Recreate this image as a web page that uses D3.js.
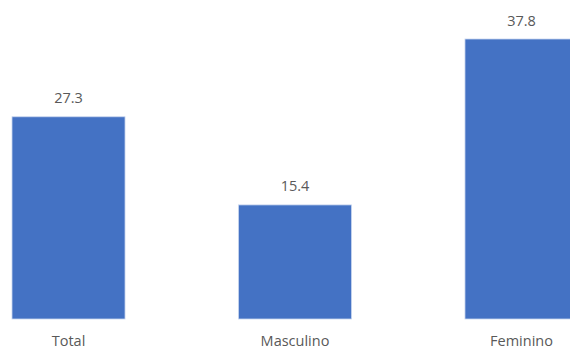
<!DOCTYPE html>
<html>
<head>
<meta charset="utf-8">
<script src="https://cdn.jsdelivr.net/npm/d3@7"></script>
<style>
  html, body { margin: 0; padding: 0; background: #fff; }
  svg { display: block; }
  text { font-family: "Open Sans", sans-serif; fill: #595959; }
</style>
</head>
<body>
<svg id="chart" width="570" height="349"></svg>
<script>
  // values
  var categories = ['Total', 'Masculino', 'Feminino'];
  var values = [27.3, 15.4, 37.8];

  var svg = d3.select('#chart');

  // the third bar runs off the right edge in the original
  var x = d3.scaleBand()
    .domain(categories)
    .range([12, 578])
    .paddingInner(0.501)
    .paddingOuter(0);

  var y = d3.scaleLinear()
    .domain([0, 37.8])
    .range([319, 39]);

  var bars = svg.append('g').attr('class', 'bars');

  bars.selectAll('rect')
    .data(values)
    .enter().append('rect')
    .attr('x', function(d, i) { return x(categories[i]); })
    .attr('y', function(d) { return y(d); })
    .attr('width', x.bandwidth())
    .attr('height', function(d) { return y(0) - y(d); })
    .attr('fill', '#4472c4')
    .attr('stroke', '#c9d6ef')
    .attr('stroke-width', 0.8);

  // value labels above the bars
  svg.append('g').selectAll('text')
    .data(values)
    .enter().append('text')
    .attr('x', function(d, i) { return x(categories[i]) + x.bandwidth() / 2; })
    .attr('y', function(d) { return y(d) - 13.5; })
    .attr('text-anchor', 'middle')
    .style('font-size', '14.5px')
    .text(function(d) { return d.toFixed(1); });

  // category axis, no line or ticks
  var xAxis = svg.append('g')
    .attr('transform', 'translate(0,' + y(0) + ')')
    .call(d3.axisBottom(x).tickSize(0).tickPadding(0));

  xAxis.select('.domain').remove();
  xAxis.selectAll('text')
    .attr('dy', null)
    .attr('y', 26.5)
    .attr('fill', '#595959')
    .style('font-family', '"Open Sans", sans-serif')
    .style('font-size', '14.5px');
</script>
</body>
</html>
